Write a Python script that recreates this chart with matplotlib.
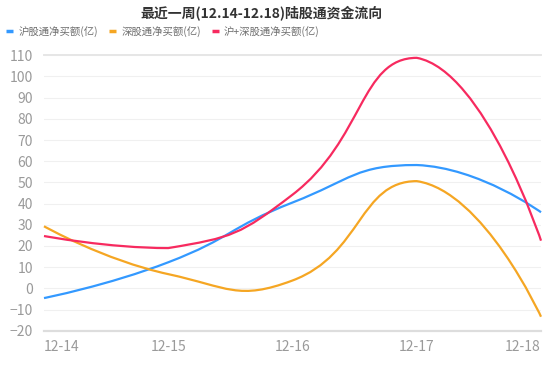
import numpy as np
import matplotlib
matplotlib.use('Agg')
import matplotlib.pyplot as plt
from matplotlib.path import Path
from matplotlib.patches import PathPatch
from matplotlib.lines import Line2D

plt.rcParams['font.family'] = ['Noto Sans CJK SC', 'DejaVu Sans']

title = '最近一周(12.14-12.18)陆股通资金流向'
dates = ['12-14', '12-15', '12-16', '12-17', '12-18']
sh = [-4.6, 12.3, 40.5, 58.2, 35.9]
sz = [29.3, 6.7, 3.7, 50.6, -13.4]
total = [24.7, 19.0, 44.2, 108.8, 22.5]
names = ['沪股通净买额(亿)', '深股通净买额(亿)', '沪+深股通净买额(亿)']
colors = ['#3399ff', '#f5a623', '#f72a5f']
yticks = list(range(-20, 111, 10))


def smooth_path(pts, smooth=0.5):
    # bezier smoothing done in screen space, like the web chart lib does it
    n = len(pts)
    lo, hi = pts.min(axis=0), pts.max(axis=0)
    verts = [pts[0]]
    codes = [Path.MOVETO]
    cp0 = pts[0].copy()
    v = np.zeros(2)
    for i in range(1, n):
        p, prev = pts[i], pts[i - 1]
        r = 0.5
        if i + 1 < n:
            nxt = pts[i + 1]
            v = nxt - prev
            l0 = np.hypot(*(p - prev))
            l1 = np.hypot(*(nxt - p))
            r = l1 / (l0 + l1)
            cp1 = p - v * smooth * (1 - r)
        else:
            cp1 = p.copy()
        verts += [np.clip(cp0, lo, hi), np.clip(cp1, lo, hi), p]
        codes += [Path.CURVE4] * 3
        cp0 = p + v * smooth * r
    return np.array(verts), codes


W, H = 545, 366
fig = plt.figure(figsize=(W / 100, H / 100), dpi=100)
ax = fig.add_axes([44 / W, 1 - 330.7 / H, 497 / W, 275.4 / H])
ax.set_xlim(0, len(dates) - 1)
ax.set_ylim(-20, 110)

ax.set_yticks(yticks)
ax.set_xticks(range(len(dates)))
ax.set_xticklabels(dates)
ax.tick_params(axis='both', length=0, labelsize=10, labelcolor='#9a9a9a')
ax.tick_params(axis='y', pad=8)
ax.tick_params(axis='x', pad=7)
xl = ax.get_xticklabels()
xl[0].set_ha('left')
xl[-1].set_ha('right')

ax.grid(axis='y', color='#f0f0f0', lw=0.8)
ax.set_axisbelow(True)
for s in ['left', 'right']:
    ax.spines[s].set_visible(False)
ax.spines['bottom'].set_color('#dddddd')
ax.spines['bottom'].set_linewidth(1.6)
ax.spines['top'].set_color('#e6e6e6')
ax.spines['top'].set_linewidth(1.4)

x = np.arange(len(dates))
handles = []
for vals, c, name in zip([sh, sz, total], colors, names):
    disp = ax.transData.transform(np.column_stack([x, vals]))
    verts, codes = smooth_path(disp)
    data_verts = ax.transData.inverted().transform(verts)
    ax.add_patch(PathPatch(Path(data_verts, codes), fill=False, edgecolor=c,
                           lw=1.6, clip_on=False, zorder=3))
    handles.append(Line2D([], [], color=c, lw=2.5, solid_capstyle='butt'))

fig.text(0.48, 1 - 13 / H, title, ha='center', va='center', fontsize=10,
         fontweight='bold', color='#333333')

fig.legend(handles, names, loc='center left', bbox_to_anchor=(6 / W, 1 - 31.7 / H),
           ncol=3, frameon=False, fontsize=7.5, labelcolor='#6e6e6e',
           handlelength=0.68, handletextpad=0.5, columnspacing=1.05,
           borderaxespad=0, borderpad=0)

fig.savefig('out.png', dpi=100)
